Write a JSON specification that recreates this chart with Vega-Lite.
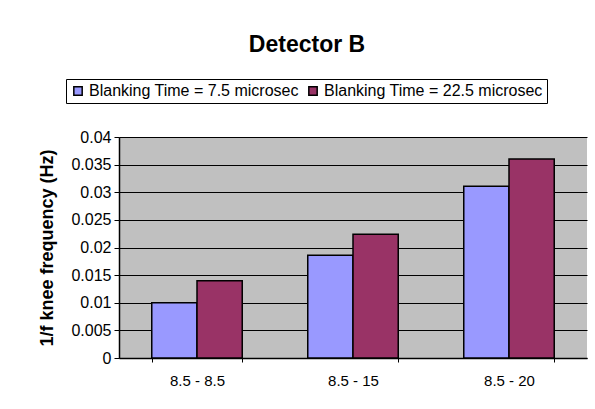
{
  "$schema": "https://vega.github.io/schema/vega-lite/v6.json",
  "autosize": "none",
  "width": 468,
  "height": 221,
  "padding": {"left": 119, "top": 137, "right": 8, "bottom": 51},
  "background": "white",
  "title": {
    "text": "Detector B",
    "font": "Liberation Sans",
    "fontSize": 23,
    "fontWeight": "bold",
    "color": "black",
    "anchor": "middle",
    "dx": -46,
    "offset": 22
  },
  "data": {
    "values": [
      {"pair": "8.5 - 8.5", "series": "Blanking Time = 7.5 microsec", "value": 0.01},
      {"pair": "8.5 - 8.5", "series": "Blanking Time = 22.5 microsec", "value": 0.014},
      {"pair": "8.5 - 15", "series": "Blanking Time = 7.5 microsec", "value": 0.0186},
      {"pair": "8.5 - 15", "series": "Blanking Time = 22.5 microsec", "value": 0.0224},
      {"pair": "8.5 - 20", "series": "Blanking Time = 7.5 microsec", "value": 0.0311},
      {"pair": "8.5 - 20", "series": "Blanking Time = 22.5 microsec", "value": 0.036}
    ]
  },
  "mark": {"type": "bar", "stroke": "black", "strokeWidth": 1.5},
  "encoding": {
    "x": {
      "field": "pair",
      "type": "nominal",
      "sort": null,
      "title": null,
      "scale": {"paddingInner": 0.42, "paddingOuter": 0.21},
      "axis": {
        "labelAngle": 0,
        "labelFont": "Liberation Sans",
        "labelFontSize": 15,
        "labelColor": "black",
        "labelPadding": 11,
        "tickBand": "extent",
        "tickColor": "black",
        "tickSize": 4,
        "domainColor": "black",
        "domainWidth": 1.5,
        "grid": false
      }
    },
    "xOffset": {
      "field": "series",
      "type": "nominal",
      "sort": ["Blanking Time = 7.5 microsec", "Blanking Time = 22.5 microsec"],
      "scale": {"paddingInner": 0, "paddingOuter": 0}
    },
    "y": {
      "field": "value",
      "type": "quantitative",
      "scale": {"domain": [0, 0.04], "nice": false},
      "axis": {
        "title": "1/f knee frequency (Hz)",
        "titleFont": "Liberation Sans",
        "titleFontSize": 18,
        "titleFontWeight": "bold",
        "titleColor": "black",
        "titlePadding": 14,
        "values": [0, 0.005, 0.01, 0.015, 0.02, 0.025, 0.03, 0.035, 0.04],
        "format": ".3~f",
        "labelFont": "Liberation Sans",
        "labelFontSize": 16,
        "labelColor": "black",
        "labelPadding": 3,
        "tickColor": "black",
        "tickSize": 5,
        "domainColor": "black",
        "domainWidth": 1.5,
        "gridColor": "black",
        "gridWidth": 1,
        "gridOpacity": 1
      }
    },
    "color": {
      "field": "series",
      "type": "nominal",
      "sort": ["Blanking Time = 7.5 microsec", "Blanking Time = 22.5 microsec"],
      "scale": {"range": ["#9999FF", "#993366"]},
      "legend": {
        "title": null,
        "orient": "none",
        "legendX": -53,
        "legendY": -58,
        "direction": "horizontal",
        "columns": 2,
        "symbolType": "square",
        "symbolSize": 70,
        "symbolStrokeColor": "black",
        "symbolStrokeWidth": 1.5,
        "symbolOpacity": 1,
        "labelFont": "Liberation Sans",
        "labelFontSize": 16,
        "labelLimit": 400,
        "labelColor": "black",
        "labelOffset": 3,
        "columnPadding": 6,
        "strokeColor": "black",
        "padding": 4,
        "fillColor": "white"
      }
    }
  },
  "config": {
    "view": {"fill": "#C0C0C0", "stroke": null}
  }
}
